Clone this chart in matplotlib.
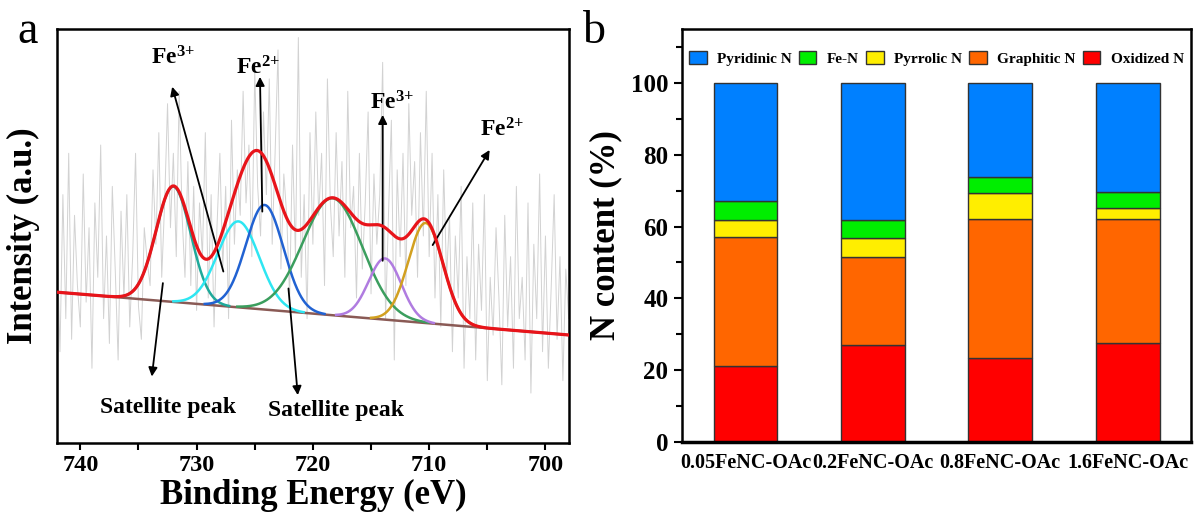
import numpy as np
import matplotlib
matplotlib.use('Agg')
import matplotlib.pyplot as plt

plt.rcParams['font.family'] = 'Liberation Serif'
plt.rcParams['font.weight'] = 'bold'
plt.rcParams['mathtext.fontset'] = 'custom'
plt.rcParams['mathtext.rm'] = 'Liberation Serif:bold'
plt.rcParams['mathtext.default'] = 'rm'

# ---- panel a: Fe 2p XPS (intensity in arbitrary units, 0-100 frame) ----
raw_start, raw_step = 742.0, -0.25
raw_counts = [48, 22, 60, 30, 70, 25, 55, 38,
              28, 65, 34, 52, 18, 58, 40, 72,
              30, 50, 24, 62, 42, 20, 56, 35,
              60, 28, 45, 70, 33, 25, 52, 44,
              38, 66, 48, 75, 40, 58, 82, 52,
              70, 45, 85, 55, 40, 68, 38, 62,
              32, 58, 45, 75, 35, 60, 28, 52,
              70, 42, 62, 30, 78, 48, 66, 55,
              85, 58, 72, 45, 90, 62, 50, 80,
              60, 88, 48, 70, 95, 42, 65, 55,
              35, 72, 45, 98, 40, 60, 30, 75,
              48, 80, 55, 70, 38, 88, 58, 45,
              75, 50, 68, 40, 85, 52, 62, 35,
              70, 42, 58, 80, 36, 65, 48, 60,
              92, 30, 55, 78, 20, 66, 45, 70,
              38, 82, 55, 68, 40, 75, 50, 85,
              45, 70, 35, 60, 28, 66, 40, 55,
              22, 50, 35, 62, 18, 45, 30, 58,
              20, 48, 32, 60, 15, 40, 26, 52,
              35, 14, 55, 28, 45, 18, 62, 30,
              40, 20, 58, 12, 48, 30, 65, 22,
              50, 18, 38, 60, 25, 45, 15, 42,
              30]
bg_ends = [36.4, 26.05]          # linear background at 742 and 698 eV
peak_centers = [732.0, 726.4, 724.15, 718.3, 713.8, 710.3]
peak_heights = [27.9, 20.8, 25.3, 28.3, 14.8, 24.2]
peak_fwhm = [3.5, 4.2, 3.8, 6.0, 3.3, 3.5]
peak_colors = ['#1fa99a', '#2ee6f2', '#2162d2', '#3b9e5e', '#b07ce0', '#d2a020']

# ---- panel b: N species ----
samples = ['0.05FeNC-OAc', '0.2FeNC-OAc', '0.8FeNC-OAc', '1.6FeNC-OAc']
oxidized = [21.0, 26.9, 23.2, 27.6]
graphitic = [36.1, 24.5, 38.8, 34.4]
pyrrolic = [4.7, 5.3, 7.4, 3.1]
fe_n = [5.2, 5.1, 4.4, 4.6]
pyridinic = [33.0, 38.2, 26.2, 30.3]

fig = plt.figure(figsize=(11.94, 5.2), dpi=100)
ax1 = fig.add_axes([0.0478, 0.1487, 0.4285, 0.7950])
ax2 = fig.add_axes([0.5709, 0.1506, 0.4270, 0.7931])

# left panel
e_raw = raw_start + raw_step * np.arange(len(raw_counts))
ax1.plot(e_raw, raw_counts, color='#d2d2d2', lw=0.7, zorder=1)

e = np.linspace(742, 698, 881)
bg = bg_ends[1] + (e - 698) / (742 - 698) * (bg_ends[0] - bg_ends[1])
ax1.plot(e, bg, color='#8a5a55', lw=1.8, zorder=2)
total = bg.copy()
for c, h, w, col in zip(peak_centers, peak_heights, peak_fwhm, peak_colors):
    s = w / 2.3548
    p = h * np.exp(-0.5 * ((e - c) / s) ** 2)
    total += p
    comp = np.where(p > 0.15, bg + p, np.nan)
    ax1.plot(e, comp, color=col, lw=1.8, zorder=3)
ax1.plot(e, total, color='#e8141a', lw=2.3, zorder=4)

ax1.set_xlim(742, 698)
ax1.set_ylim(0, 100)
ax1.set_yticks([])
ax1.set_xticks([740, 730, 720, 710, 700])
ax1.set_xticks([735, 725, 715, 705], minor=True)
ax1.tick_params(axis='x', which='both', direction='out', length=5, width=1.5, labelsize=17.5, pad=4)
for sp in ax1.spines.values():
    sp.set_linewidth(1.8)
ax1.set_xlabel('Binding Energy (eV)', fontsize=25, fontweight='bold', labelpad=2)
ax1.set_ylabel('Intensity (a.u.)', fontsize=25, fontweight='bold', labelpad=12)

arrow = dict(arrowstyle='-|>', color='k', lw=1.3, mutation_scale=13, shrinkA=0, shrinkB=0)
notes = [('Fe$^{3{+}}$', (732.0, 93.1), (727.7, 41.4), (732.1, 86.1)),
         ('Fe$^{2{+}}$', (724.7, 90.6), (724.35, 55.9), (724.55, 88.5)),
         ('Fe$^{3{+}}$', (713.2, 82.2), (714.0, 44.0), (714.0, 79.3)),
         ('Fe$^{2{+}}$', (703.7, 75.6), (709.7, 47.8), (704.8, 70.8))]
for txt, tpos, tail, head in notes:
    ax1.text(tpos[0], tpos[1], txt, fontsize=17, ha='center', va='center')
    ax1.annotate('', xy=head, xytext=tail, arrowprops=arrow)
for tpos, tail, head in [((732.5, 8.4), (732.9, 38.6), (733.85, 16.0)),
                         ((718.0, 7.9), (722.1, 37.3), (721.3, 11.5))]:
    ax1.text(tpos[0], tpos[1], 'Satellite peak', fontsize=17, ha='center', va='center')
    ax1.annotate('', xy=head, xytext=tail, arrowprops=arrow)

# right panel
x = np.arange(len(samples))
layers = [('Oxidized N', oxidized, '#ff0000'),
          ('Graphitic N', graphitic, '#ff6600'),
          ('Pyrrolic N', pyrrolic, '#ffee00'),
          ('Fe-N', fe_n, '#00ee00'),
          ('Pyridinic N', pyridinic, '#0080ff')]
bottom = np.zeros(len(samples))
handles = {}
for name, vals, col in layers:
    b = ax2.bar(x, vals, 0.5, bottom=bottom, color=col, edgecolor='#333333', linewidth=1.0, label=name)
    handles[name] = b
    bottom += np.array(vals)

ax2.set_xlim(-0.5, 3.5)
ax2.set_ylim(0, 115)
ax2.set_xticks(x)
ax2.set_xticklabels(samples, fontsize=14.5)
ax2.tick_params(axis='x', length=0, pad=8)
ax2.set_yticks([0, 20, 40, 60, 80, 100])
ax2.set_yticks([10, 30, 50, 70, 90, 110], minor=True)
ax2.tick_params(axis='y', which='major', direction='out', length=6, width=1.5, labelsize=18)
ax2.tick_params(axis='y', which='minor', direction='out', length=4, width=1.5)
for sp in ax2.spines.values():
    sp.set_linewidth(1.8)
ax2.spines['bottom'].set_linewidth(2.5)
ax2.set_ylabel('N content (%)', fontsize=25, fontweight='bold', labelpad=6)

order = ['Pyridinic N', 'Fe-N', 'Pyrrolic N', 'Graphitic N', 'Oxidized N']
ax2.legend([handles[n] for n in order], order, ncol=5, loc='center', bbox_to_anchor=(0.5, 0.93),
           frameon=False, fontsize=11, handlelength=1.15, handleheight=1.0, handletextpad=0.7,
           columnspacing=0.45, borderaxespad=0)

fig.text(17 / 1194, 1 - 43 / 520, 'a', fontsize=33, fontweight='normal', va='baseline')
fig.text(583 / 1194, 1 - 43 / 520, 'b', fontsize=33, fontweight='normal', va='baseline')

fig.savefig('out.png', dpi=100)
